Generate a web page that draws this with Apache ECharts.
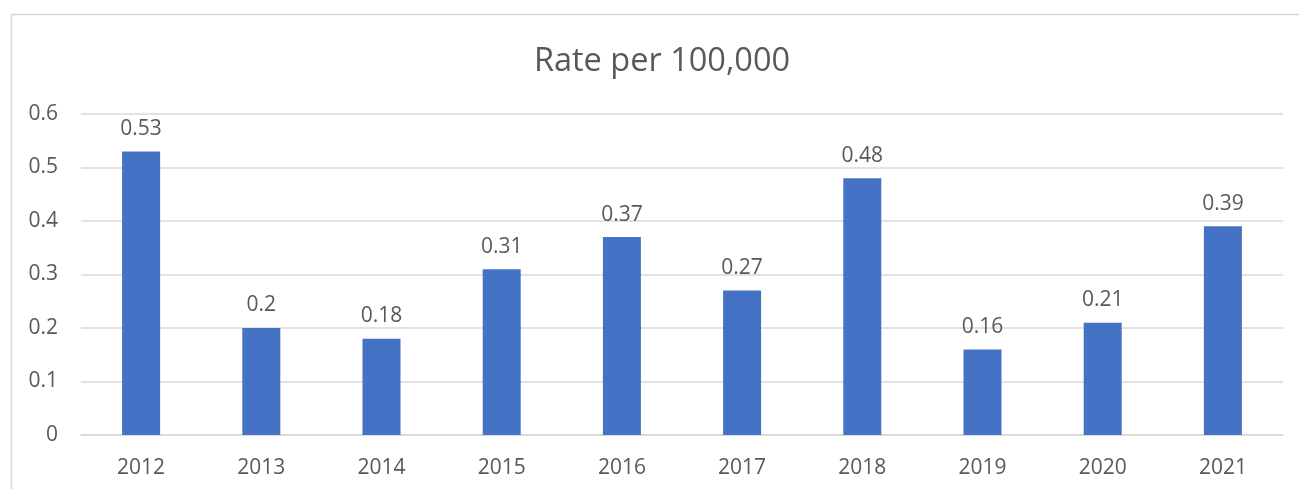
<!DOCTYPE html>
<html>
<head>
<meta charset="utf-8">
<script src="https://cdn.jsdelivr.net/npm/echarts@6/dist/echarts.min.js"></script>
<style>
  html, body { margin: 0; padding: 0; background: #fff; }
  #main { width: 1299px; height: 489px; }
</style>
</head>
<body>
<div id="main"></div>
<script>
var years = ['2012', '2013', '2014', '2015', '2016', '2017', '2018', '2019', '2020', '2021'];
var rates = [0.53, 0.2, 0.18, 0.31, 0.37, 0.27, 0.48, 0.16, 0.21, 0.39];

var textColor = '#595959';
var lineColor = '#d9d9d9';
var font = '"Open Sans", sans-serif';

var myChart = echarts.init(document.getElementById('main'));
var option = {
    animation: false,
    title: {
        text: 'Rate per 100,000',
        left: 657,
        top: 40,
        textAlign: 'center',
        textStyle: {
            color: textColor,
            fontFamily: font,
            fontSize: 32.5,
            fontWeight: 'normal'
        }
    },
    graphic: [{
        type: 'rect',
        shape: { x: 11.5, y: 14.5, width: 1400, height: 600 },
        style: { fill: 'none', stroke: lineColor, lineWidth: 1.5 },
        silent: true
    }],
    grid: { left: 81, right: 16, top: 114, bottom: 54 },
    xAxis: {
        type: 'category',
        data: years,
        axisLine: { lineStyle: { color: lineColor, width: 1.5 } },
        axisTick: { show: false },
        axisLabel: {
            color: textColor,
            fontFamily: font,
            fontSize: 21,
            margin: 23
        }
    },
    yAxis: {
        type: 'value',
        min: 0,
        max: 0.6,
        interval: 0.1,
        axisLine: { show: false },
        axisTick: { show: false },
        splitLine: { lineStyle: { color: lineColor, width: 1.5 } },
        axisLabel: {
            color: textColor,
            fontFamily: font,
            fontSize: 21,
            margin: 23,
            formatter: function (v) { return String(+v.toFixed(1)); }
        }
    },
    series: [{
        type: 'bar',
        data: rates,
        barWidth: 38,
        itemStyle: { color: '#4472c4' },
        label: {
            show: true,
            position: 'top',
            distance: 12,
            color: textColor,
            fontFamily: font,
            fontSize: 21
        }
    }]
};
myChart.setOption(option);
</script>
</body>
</html>
